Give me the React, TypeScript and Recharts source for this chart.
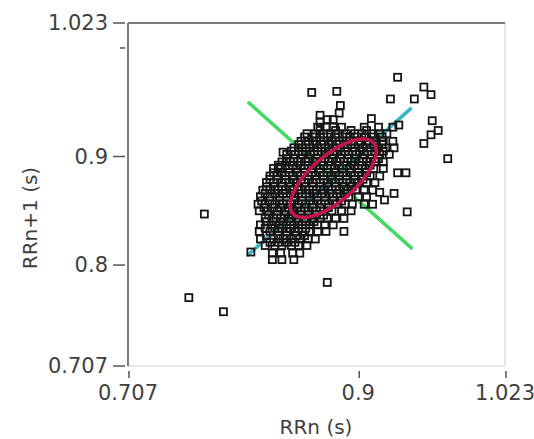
import {
  Label,
  ReferenceLine,
  Scatter,
  ScatterChart,
  XAxis,
  YAxis,
} from "recharts";

// Poincaré plot of successive RR intervals (seconds)
const AXIS_MIN = 0.707;
const AXIS_MAX = 1.023;
const X_TICKS = [0.707, 0.9, 1.023];
const Y_TICKS = [0.707, 0.8, 0.9, 1.0, 1.023];
const Y_TICK_LABELS: Record<string, string> = {
  "0.707": "0.707",
  "0.8": "0.8",
  "0.9": "0.9",
  "1": "",
  "1.023": "1.023",
};

// scattered beats away from the main cloud: [RRn, RRn+1]
const OUTLIERS: [number, number][] = [
  [0.758, 0.77], [0.787, 0.757], [0.874, 0.784], [0.771, 0.847],
  [0.941, 0.849], [0.888, 0.831], [0.975, 0.898], [0.933, 0.973],
  [0.861, 0.959], [0.882, 0.96], [0.885, 0.947], [0.884, 0.94],
  [0.868, 0.938], [0.868, 0.932], [0.927, 0.953], [0.947, 0.953],
  [0.955, 0.964], [0.961, 0.957], [0.911, 0.935], [0.934, 0.929],
  [0.929, 0.927], [0.962, 0.933], [0.967, 0.924], [0.961, 0.92],
  [0.955, 0.912], [0.837, 0.904], [0.94, 0.885], [0.933, 0.885],
  [0.93, 0.866], [0.84, 0.895], [0.833, 0.89], [0.922, 0.86],
  [0.918, 0.867], [0.81, 0.812],
];

// the dense cloud, row by row: [RRn+1, RRn values]
const CLOUD_ROWS: [number, number[]][] = [
  [0.934, [0.874, 0.879]],
  [0.927, [0.866, 0.873, 0.879, 0.886, 0.905, 0.917]],
  [0.921, [0.857, 0.864, 0.871, 0.877, 0.883, 0.89, 0.897, 0.903, 0.911, 0.918, 0.924]],
  [0.914, [0.852, 0.858, 0.865, 0.871, 0.878, 0.884, 0.89, 0.896, 0.902, 0.909, 0.915, 0.921, 0.929]],
  [0.908, [0.846, 0.853, 0.859, 0.866, 0.872, 0.879, 0.885, 0.891, 0.897, 0.904, 0.91, 0.916, 0.923, 0.93]],
  [0.902, [0.84, 0.847, 0.853, 0.86, 0.866, 0.873, 0.879, 0.886, 0.892, 0.898, 0.905, 0.911, 0.918, 0.926]],
  [0.895, [0.836, 0.843, 0.849, 0.856, 0.862, 0.869, 0.875, 0.882, 0.888, 0.894, 0.901, 0.907, 0.914, 0.921]],
  [0.889, [0.829, 0.835, 0.842, 0.848, 0.855, 0.861, 0.868, 0.874, 0.88, 0.887, 0.893, 0.9, 0.906, 0.913, 0.921]],
  [0.882, [0.826, 0.832, 0.839, 0.845, 0.852, 0.858, 0.864, 0.871, 0.877, 0.884, 0.89, 0.897, 0.903, 0.91, 0.918]],
  [0.876, [0.823, 0.829, 0.836, 0.842, 0.849, 0.855, 0.862, 0.868, 0.874, 0.881, 0.887, 0.893, 0.9, 0.907, 0.914]],
  [0.869, [0.82, 0.826, 0.833, 0.839, 0.846, 0.852, 0.859, 0.865, 0.871, 0.878, 0.884, 0.891, 0.898, 0.905, 0.912]],
  [0.863, [0.818, 0.826, 0.834, 0.84, 0.846, 0.853, 0.859, 0.866, 0.872, 0.879, 0.885, 0.892, 0.9, 0.907]],
  [0.856, [0.816, 0.822, 0.83, 0.837, 0.843, 0.85, 0.856, 0.862, 0.869, 0.875, 0.882, 0.889, 0.895, 0.905, 0.912]],
  [0.85, [0.817, 0.824, 0.832, 0.839, 0.845, 0.852, 0.858, 0.865, 0.871, 0.878, 0.886, 0.894]],
  [0.843, [0.822, 0.829, 0.835, 0.842, 0.848, 0.855, 0.861, 0.868, 0.874, 0.881, 0.888]],
  [0.837, [0.818, 0.827, 0.834, 0.84, 0.846, 0.853, 0.859, 0.866, 0.872, 0.879]],
  [0.831, [0.817, 0.826, 0.833, 0.84, 0.847, 0.853, 0.859, 0.866, 0.873]],
  [0.824, [0.818, 0.829, 0.837, 0.844, 0.851, 0.858, 0.864]],
  [0.818, [0.822, 0.83, 0.836, 0.844, 0.85, 0.857]],
  [0.811, [0.828, 0.835, 0.845, 0.851]],
  [0.805, [0.828, 0.836, 0.846]],
];

// beats filling the gaps between the rows above, where the cloud is densest
const CLOUD_ROWS_INNER: [number, number[]][] = [
  [0.924, [0.868, 0.881, 0.894, 0.907]],
  [0.918, [0.855, 0.862, 0.868, 0.874, 0.881, 0.887, 0.893, 0.899, 0.906, 0.913, 0.92]],
  [0.911, [0.85, 0.856, 0.862, 0.869, 0.875, 0.882, 0.888, 0.894, 0.9, 0.907, 0.913, 0.92]],
  [0.905, [0.844, 0.85, 0.856, 0.863, 0.869, 0.876, 0.882, 0.889, 0.895, 0.901, 0.908, 0.914, 0.921]],
  [0.898, [0.84, 0.846, 0.852, 0.858, 0.865, 0.872, 0.878, 0.885, 0.891, 0.897, 0.904, 0.91, 0.917]],
  [0.892, [0.833, 0.839, 0.845, 0.852, 0.858, 0.865, 0.871, 0.877, 0.884, 0.89, 0.897, 0.903, 0.91]],
  [0.885, [0.829, 0.836, 0.842, 0.849, 0.855, 0.861, 0.868, 0.874, 0.881, 0.887, 0.894, 0.9, 0.907]],
  [0.879, [0.826, 0.832, 0.839, 0.846, 0.852, 0.858, 0.865, 0.871, 0.878, 0.884, 0.89, 0.897, 0.904]],
  [0.872, [0.823, 0.83, 0.836, 0.843, 0.849, 0.856, 0.862, 0.868, 0.875, 0.881, 0.888, 0.895]],
  [0.866, [0.822, 0.83, 0.837, 0.843, 0.85, 0.856, 0.863, 0.869, 0.876, 0.882, 0.889]],
  [0.859, [0.819, 0.826, 0.834, 0.84, 0.846, 0.853, 0.859, 0.866, 0.872, 0.879, 0.886]],
  [0.853, [0.821, 0.828, 0.835, 0.842, 0.849, 0.855, 0.862, 0.868, 0.875]],
  [0.846, [0.825, 0.832, 0.838, 0.845, 0.852, 0.858, 0.864, 0.871]],
  [0.84, [0.823, 0.831, 0.837, 0.843, 0.85, 0.856, 0.863]],
  [0.834, [0.822, 0.83, 0.836, 0.843, 0.85, 0.856]],
  [0.827, [0.823, 0.833, 0.84, 0.848, 0.855]],
  [0.821, [0.826, 0.833, 0.84, 0.847]],
];

// SD1 / SD2 ellipse and its axes
const CENTER = { x: 0.879, y: 0.88 };
const SD2 = 0.047;
const SD1 = 0.02;
const SD2_AXIS = [
  { x: 0.8076, y: 0.8093 },
  { x: 0.9437, y: 0.9439 },
];
const SD1_AXIS = [
  { x: 0.8084, y: 0.9494 },
  { x: 0.9445, y: 0.8158 },
];

const beats = [
  ...OUTLIERS.map(([x, y]) => ({ x, y })),
  ...CLOUD_ROWS.flatMap(([y, xs]) => xs.map((x) => ({ x, y }))),
  ...CLOUD_ROWS_INNER.flatMap(([y, xs]) => xs.map((x) => ({ x, y }))),
];

const ellipse = Array.from({ length: 73 }, (_, i) => {
  const t = (i / 72) * 2 * Math.PI;
  const u = SD2 * Math.cos(t);
  const v = SD1 * Math.sin(t);
  const r = Math.SQRT1_2;
  return { x: CENTER.x + r * (u - v), y: CENTER.y + r * (u + v) };
});

const FONT = "'DejaVu Sans', Verdana, sans-serif";
const TEXT = "#3f3f3f";

const Square = (props: any) => {
  const { cx, cy } = props;
  if (cx == null || cy == null) return <g />;
  return (
    <rect
      x={cx - 3.5}
      y={cy - 3.5}
      width={7}
      height={7}
      fill="none"
      stroke="#151515"
      strokeWidth={1.8}
    />
  );
};

const YTick = (props: any) => {
  const { x, y, payload } = props;
  const label = Y_TICK_LABELS[String(payload.value)] ?? "";
  return (
    <g>
      <line
        x1={label ? x - 15 : x - 8}
        x2={x - 3}
        y1={y}
        y2={y}
        stroke="#555"
        strokeWidth={1.5}
      />
      {label && (
        <text
          x={x - 20}
          y={y}
          textAnchor="end"
          dominantBaseline="central"
          fontFamily={FONT}
          fontSize={21}
          fill={TEXT}
        >
          {label}
        </text>
      )}
    </g>
  );
};

const XTick = (props: any) => {
  const { x, y, payload } = props;
  return (
    <g>
      <line x1={x + 1} x2={x + 1} y1={y + 5} y2={y + 12} stroke="#555" strokeWidth={1.5} />
      <text
        x={x}
        y={y + 27}
        textAnchor="middle"
        dominantBaseline="central"
        fontFamily={FONT}
        fontSize={21}
        fill={TEXT}
      >
        {String(payload.value)}
      </text>
    </g>
  );
};

const none = () => <g />;

export default function App() {
  return (
    <div style={{ position: "absolute", left: 0, top: 0, background: "#fff" }}>
      <ScatterChart
        width={534}
        height={439}
        margin={{ top: 23, right: 29, bottom: 0, left: 0 }}
      >
        <XAxis
          type="number"
          dataKey="x"
          domain={[AXIS_MIN, AXIS_MAX]}
          ticks={X_TICKS}
          allowDataOverflow
          axisLine={false}
          tickLine={false}
          tickSize={0}
          tickMargin={0}
          tick={<XTick />}
          height={73}
        >
          <Label
            content={() => (
              <text
                x={316}
                y={427}
                textAnchor="middle"
                dominantBaseline="central"
                fontFamily={FONT}
                fontSize={20}
                fill={TEXT}
              >
                RRn (s)
              </text>
            )}
          />
        </XAxis>
        <YAxis
          type="number"
          dataKey="y"
          domain={[AXIS_MIN, AXIS_MAX]}
          ticks={Y_TICKS}
          allowDataOverflow
          axisLine={{ stroke: "#7a7a7a", strokeWidth: 2 }}
          tickLine={false}
          tickSize={0}
          tickMargin={0}
          tick={<YTick />}
          width={128}
        >
          <Label
            content={() => (
              <text
                x={30}
                y={218}
                transform="rotate(-90 30 218)"
                textAnchor="middle"
                dominantBaseline="central"
                fontFamily={FONT}
                fontSize={20}
                fill={TEXT}
              >
                RRn+1 (s)
              </text>
            )}
          />
        </YAxis>
        <ReferenceLine y={AXIS_MIN} stroke="#e6e6e6" strokeWidth={2} />
        <ReferenceLine x={AXIS_MAX} stroke="#e6e6e6" strokeWidth={2} />
        <ReferenceLine y={AXIS_MAX} stroke="#7a7a7a" strokeWidth={2} />
        <Scatter data={beats} shape={<Square />} isAnimationActive={false} />
        <Scatter
          data={ellipse}
          line={{ stroke: "#c4154a", strokeWidth: 3.5 }}
          shape={none}
          isAnimationActive={false}
        />
        <ReferenceLine
          segment={SD1_AXIS}
          stroke="#45d865"
          strokeWidth={3.5}
          strokeLinecap="round"
        />
        <ReferenceLine
          segment={SD2_AXIS}
          stroke="#38b6c2"
          strokeWidth={3.5}
          strokeLinecap="round"
        />
      </ScatterChart>
    </div>
  );
}
